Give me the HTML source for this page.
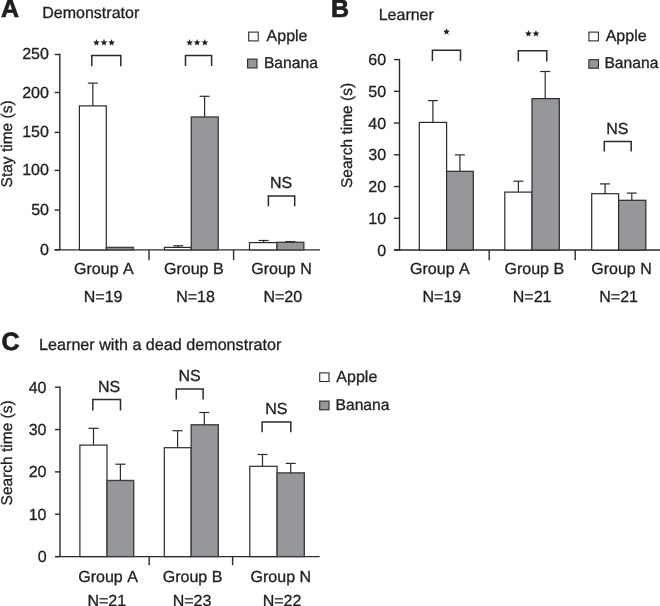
<!DOCTYPE html>
<html><head><meta charset="utf-8"><style>
html,body{margin:0;padding:0;background:#fff;}
body{width:660px;height:606px;overflow:hidden;}
svg{display:block;will-change:transform;}
text{font-family:"Liberation Sans",sans-serif;fill:#1e1e1e;stroke:#1e1e1e;stroke-width:0.3px;font-kerning:none;text-rendering:geometricPrecision;}
</style></head><body>
<svg width="660" height="606" viewBox="0 0 660 606">
<rect width="660" height="606" fill="#fff"/>
<text x="1.08" y="17.40" font-size="25" font-weight="bold" style="stroke-width:0.7px">A</text>
<text x="42.29" y="17.60" font-size="16">Demonstrator</text>
<line x1="59.80" y1="53.80" x2="59.80" y2="249.90" stroke="#2a2a2a" stroke-width="1.4"/>
<line x1="54.60" y1="249.90" x2="320.00" y2="249.90" stroke="#2a2a2a" stroke-width="1.4"/>
<line x1="54.60" y1="249.90" x2="59.80" y2="249.90" stroke="#2a2a2a" stroke-width="1.4"/>
<text x="40.03" y="255.00" font-size="16">0</text>
<line x1="54.60" y1="210.05" x2="59.80" y2="210.05" stroke="#2a2a2a" stroke-width="1.4"/>
<text x="31.13" y="215.00" font-size="16">50</text>
<line x1="54.60" y1="170.40" x2="59.80" y2="170.40" stroke="#2a2a2a" stroke-width="1.4"/>
<text x="22.23" y="175.00" font-size="16">100</text>
<line x1="54.60" y1="132.40" x2="59.80" y2="132.40" stroke="#2a2a2a" stroke-width="1.4"/>
<text x="22.23" y="137.00" font-size="16">150</text>
<line x1="54.60" y1="92.50" x2="59.80" y2="92.50" stroke="#2a2a2a" stroke-width="1.4"/>
<text x="22.23" y="98.00" font-size="16">200</text>
<line x1="54.60" y1="54.50" x2="59.80" y2="54.50" stroke="#2a2a2a" stroke-width="1.4"/>
<text x="22.23" y="59.00" font-size="16">250</text>
<line x1="149.00" y1="249.90" x2="149.00" y2="260.30" stroke="#2a2a2a" stroke-width="1.4"/>
<line x1="233.60" y1="249.90" x2="233.60" y2="260.30" stroke="#2a2a2a" stroke-width="1.4"/>
<text transform="translate(12.00,187.40) rotate(-90)" font-size="15.5">Stay time (s)</text>
<rect x="79.40" y="105.90" width="26.90" height="144.00" fill="#fff" stroke="#2a2a2a" stroke-width="1.2"/>
<line x1="92.85" y1="105.90" x2="92.85" y2="83.10" stroke="#2a2a2a" stroke-width="1.2"/>
<line x1="87.85" y1="83.10" x2="97.85" y2="83.10" stroke="#2a2a2a" stroke-width="1.2"/>
<rect x="106.40" y="247.40" width="27.00" height="2.50" fill="#96979b" stroke="#404040" stroke-width="1.4"/>
<rect x="164.40" y="247.40" width="26.70" height="2.50" fill="#fff" stroke="#2a2a2a" stroke-width="1.2"/>
<line x1="178.20" y1="247.40" x2="178.20" y2="245.80" stroke="#2a2a2a" stroke-width="1.2"/>
<line x1="173.20" y1="245.80" x2="183.20" y2="245.80" stroke="#2a2a2a" stroke-width="1.2"/>
<rect x="191.30" y="117.00" width="26.90" height="132.90" fill="#96979b" stroke="#404040" stroke-width="1.4"/>
<line x1="204.60" y1="117.00" x2="204.60" y2="96.30" stroke="#2a2a2a" stroke-width="1.2"/>
<line x1="199.60" y1="96.30" x2="209.60" y2="96.30" stroke="#2a2a2a" stroke-width="1.2"/>
<rect x="249.50" y="242.60" width="27.50" height="7.30" fill="#fff" stroke="#2a2a2a" stroke-width="1.2"/>
<line x1="263.60" y1="242.60" x2="263.60" y2="240.50" stroke="#2a2a2a" stroke-width="1.2"/>
<line x1="258.60" y1="240.50" x2="268.60" y2="240.50" stroke="#2a2a2a" stroke-width="1.2"/>
<rect x="277.00" y="242.30" width="26.80" height="7.60" fill="#96979b" stroke="#404040" stroke-width="1.4"/>
<line x1="290.20" y1="242.30" x2="290.20" y2="241.60" stroke="#2a2a2a" stroke-width="1.2"/>
<line x1="285.20" y1="241.60" x2="295.20" y2="241.60" stroke="#2a2a2a" stroke-width="1.2"/>
<polyline points="91.80,66.30 91.80,55.60 120.80,55.60 120.80,66.30" fill="none" stroke="#2a2a2a" stroke-width="1.5"/>
<polyline points="185.50,66.00 185.50,55.60 211.60,55.60 211.60,66.00" fill="none" stroke="#2a2a2a" stroke-width="1.5"/>
<polyline points="268.40,206.30 268.40,195.90 294.70,195.90 294.70,206.30" fill="none" stroke="#2a2a2a" stroke-width="1.5"/>
<polygon points="96.40,39.10 97.32,41.40 99.80,41.57 97.90,43.16 98.50,45.57 96.40,44.25 94.30,45.57 94.90,43.16 93.00,41.57 95.48,41.40" fill="#1e1e1e"/>
<polygon points="104.00,39.10 104.92,41.40 107.40,41.57 105.50,43.16 106.10,45.57 104.00,44.25 101.90,45.57 102.50,43.16 100.60,41.57 103.08,41.40" fill="#1e1e1e"/>
<polygon points="111.60,39.10 112.52,41.40 115.00,41.57 113.10,43.16 113.70,45.57 111.60,44.25 109.50,45.57 110.10,43.16 108.20,41.57 110.68,41.40" fill="#1e1e1e"/>
<polygon points="189.60,39.10 190.52,41.40 193.00,41.57 191.10,43.16 191.70,45.57 189.60,44.25 187.50,45.57 188.10,43.16 186.20,41.57 188.68,41.40" fill="#1e1e1e"/>
<polygon points="197.10,39.10 198.02,41.40 200.50,41.57 198.60,43.16 199.20,45.57 197.10,44.25 195.00,45.57 195.60,43.16 193.70,41.57 196.18,41.40" fill="#1e1e1e"/>
<polygon points="204.90,39.10 205.82,41.40 208.30,41.57 206.40,43.16 207.00,45.57 204.90,44.25 202.80,45.57 203.40,43.16 201.50,41.57 203.98,41.40" fill="#1e1e1e"/>
<text x="269.99" y="188.20" font-size="16">NS</text>
<rect x="248.70" y="32.10" width="9.50" height="8.80" fill="#fff" stroke="#2a2a2a" stroke-width="1.1"/>
<text x="266.57" y="41.10" font-size="16">Apple</text>
<rect x="247.60" y="59.10" width="9.40" height="8.80" fill="#96979b" stroke="#2a2a2a" stroke-width="1.1"/>
<text x="263.92" y="68.40" font-size="15.65">Banana</text>
<text x="74.10" y="273.70" font-size="16">Group A</text>
<text x="164.00" y="273.70" font-size="16">Group B</text>
<text x="251.30" y="273.70" font-size="16">Group N</text>
<text x="83.79" y="302.10" font-size="16">N=19</text>
<text x="176.19" y="302.10" font-size="16">N=18</text>
<text x="263.39" y="302.10" font-size="16">N=20</text>
<text x="331.03" y="17.30" font-size="25" font-weight="bold" style="stroke-width:0.7px">B</text>
<text x="378.69" y="19.90" font-size="16">Learner</text>
<line x1="399.50" y1="58.90" x2="399.50" y2="250.00" stroke="#2a2a2a" stroke-width="1.4"/>
<line x1="394.00" y1="250.00" x2="660.00" y2="250.00" stroke="#2a2a2a" stroke-width="1.4"/>
<line x1="394.00" y1="250.00" x2="399.50" y2="250.00" stroke="#2a2a2a" stroke-width="1.4"/>
<text x="377.23" y="255.50" font-size="16">0</text>
<line x1="394.00" y1="218.27" x2="399.50" y2="218.27" stroke="#2a2a2a" stroke-width="1.4"/>
<text x="368.33" y="223.77" font-size="16">10</text>
<line x1="394.00" y1="186.53" x2="399.50" y2="186.53" stroke="#2a2a2a" stroke-width="1.4"/>
<text x="368.33" y="192.03" font-size="16">20</text>
<line x1="394.00" y1="154.80" x2="399.50" y2="154.80" stroke="#2a2a2a" stroke-width="1.4"/>
<text x="368.33" y="160.30" font-size="16">30</text>
<line x1="394.00" y1="123.07" x2="399.50" y2="123.07" stroke="#2a2a2a" stroke-width="1.4"/>
<text x="368.33" y="128.57" font-size="16">40</text>
<line x1="394.00" y1="91.33" x2="399.50" y2="91.33" stroke="#2a2a2a" stroke-width="1.4"/>
<text x="368.33" y="96.83" font-size="16">50</text>
<line x1="394.00" y1="59.60" x2="399.50" y2="59.60" stroke="#2a2a2a" stroke-width="1.4"/>
<text x="368.33" y="65.10" font-size="16">60</text>
<line x1="489.20" y1="250.00" x2="489.20" y2="260.30" stroke="#2a2a2a" stroke-width="1.4"/>
<line x1="575.20" y1="250.00" x2="575.20" y2="260.30" stroke="#2a2a2a" stroke-width="1.4"/>
<text transform="translate(352.40,188.00) rotate(-90)" font-size="15.5">Search time (s)</text>
<rect x="419.30" y="122.40" width="27.30" height="127.60" fill="#fff" stroke="#2a2a2a" stroke-width="1.2"/>
<line x1="432.90" y1="122.40" x2="432.90" y2="100.60" stroke="#2a2a2a" stroke-width="1.2"/>
<line x1="427.90" y1="100.60" x2="437.90" y2="100.60" stroke="#2a2a2a" stroke-width="1.2"/>
<rect x="446.60" y="171.30" width="26.70" height="78.70" fill="#96979b" stroke="#2a2a2a" stroke-width="1.2"/>
<line x1="459.90" y1="171.30" x2="459.90" y2="154.90" stroke="#2a2a2a" stroke-width="1.2"/>
<line x1="454.90" y1="154.90" x2="464.90" y2="154.90" stroke="#2a2a2a" stroke-width="1.2"/>
<rect x="504.80" y="192.10" width="27.20" height="57.90" fill="#fff" stroke="#2a2a2a" stroke-width="1.2"/>
<line x1="518.40" y1="192.10" x2="518.40" y2="181.20" stroke="#2a2a2a" stroke-width="1.2"/>
<line x1="513.40" y1="181.20" x2="523.40" y2="181.20" stroke="#2a2a2a" stroke-width="1.2"/>
<rect x="532.00" y="98.60" width="27.30" height="151.40" fill="#96979b" stroke="#2a2a2a" stroke-width="1.2"/>
<line x1="545.20" y1="98.60" x2="545.20" y2="71.50" stroke="#2a2a2a" stroke-width="1.2"/>
<line x1="540.20" y1="71.50" x2="550.20" y2="71.50" stroke="#2a2a2a" stroke-width="1.2"/>
<rect x="591.70" y="193.70" width="26.90" height="56.30" fill="#fff" stroke="#2a2a2a" stroke-width="1.2"/>
<line x1="605.10" y1="193.70" x2="605.10" y2="183.90" stroke="#2a2a2a" stroke-width="1.2"/>
<line x1="600.10" y1="183.90" x2="610.10" y2="183.90" stroke="#2a2a2a" stroke-width="1.2"/>
<rect x="618.60" y="200.30" width="27.20" height="49.70" fill="#96979b" stroke="#2a2a2a" stroke-width="1.2"/>
<line x1="631.80" y1="200.30" x2="631.80" y2="193.10" stroke="#2a2a2a" stroke-width="1.2"/>
<line x1="626.80" y1="193.10" x2="636.80" y2="193.10" stroke="#2a2a2a" stroke-width="1.2"/>
<polyline points="432.40,61.00 432.40,50.20 460.50,50.20 460.50,61.00" fill="none" stroke="#2a2a2a" stroke-width="1.5"/>
<polyline points="518.30,61.60 518.30,50.80 546.80,50.80 546.80,61.60" fill="none" stroke="#2a2a2a" stroke-width="1.5"/>
<polyline points="604.30,151.50 604.30,141.40 631.20,141.40 631.20,151.50" fill="none" stroke="#2a2a2a" stroke-width="1.5"/>
<polygon points="446.50,28.20 447.42,30.50 449.90,30.67 448.00,32.26 448.60,34.67 446.50,33.35 444.40,34.67 445.00,32.26 443.10,30.67 445.58,30.50" fill="#1e1e1e"/>
<polygon points="528.40,30.10 529.32,32.40 531.80,32.57 529.90,34.16 530.50,36.57 528.40,35.25 526.30,36.57 526.90,34.16 525.00,32.57 527.48,32.40" fill="#1e1e1e"/>
<polygon points="536.00,30.10 536.92,32.40 539.40,32.57 537.50,34.16 538.10,36.57 536.00,35.25 533.90,36.57 534.50,34.16 532.60,32.57 535.08,32.40" fill="#1e1e1e"/>
<text x="606.19" y="134.30" font-size="16">NS</text>
<rect x="588.90" y="32.10" width="9.50" height="8.80" fill="#fff" stroke="#2a2a2a" stroke-width="1.1"/>
<text x="605.67" y="41.10" font-size="16">Apple</text>
<rect x="588.90" y="59.70" width="9.50" height="8.50" fill="#96979b" stroke="#2a2a2a" stroke-width="1.1"/>
<text x="604.42" y="68.40" font-size="15.65">Banana</text>
<text x="410.10" y="274.20" font-size="16">Group A</text>
<text x="504.50" y="274.20" font-size="16">Group B</text>
<text x="591.30" y="274.20" font-size="16">Group N</text>
<text x="422.49" y="301.90" font-size="16">N=19</text>
<text x="512.79" y="301.90" font-size="16">N=21</text>
<text x="599.29" y="301.90" font-size="16">N=21</text>
<text x="1.47" y="350.20" font-size="25" font-weight="bold" style="stroke-width:0.7px">C</text>
<text x="39.08" y="349.70" font-size="16.15">Learner with a dead demonstrator</text>
<line x1="60.00" y1="386.50" x2="60.00" y2="556.60" stroke="#2a2a2a" stroke-width="1.4"/>
<line x1="55.00" y1="556.60" x2="319.60" y2="556.60" stroke="#2a2a2a" stroke-width="1.4"/>
<line x1="55.00" y1="556.60" x2="60.00" y2="556.60" stroke="#2a2a2a" stroke-width="1.4"/>
<text x="37.63" y="562.10" font-size="16">0</text>
<line x1="55.00" y1="514.25" x2="60.00" y2="514.25" stroke="#2a2a2a" stroke-width="1.4"/>
<text x="28.73" y="519.75" font-size="16">10</text>
<line x1="55.00" y1="471.90" x2="60.00" y2="471.90" stroke="#2a2a2a" stroke-width="1.4"/>
<text x="28.73" y="477.40" font-size="16">20</text>
<line x1="55.00" y1="429.55" x2="60.00" y2="429.55" stroke="#2a2a2a" stroke-width="1.4"/>
<text x="28.73" y="435.05" font-size="16">30</text>
<line x1="55.00" y1="387.20" x2="60.00" y2="387.20" stroke="#2a2a2a" stroke-width="1.4"/>
<text x="28.73" y="392.70" font-size="16">40</text>
<line x1="149.20" y1="556.60" x2="149.20" y2="565.30" stroke="#2a2a2a" stroke-width="1.4"/>
<line x1="232.60" y1="556.60" x2="232.60" y2="565.30" stroke="#2a2a2a" stroke-width="1.4"/>
<text transform="translate(12.00,505.40) rotate(-90)" font-size="15.5">Search time (s)</text>
<rect x="79.90" y="445.10" width="27.10" height="111.50" fill="#fff" stroke="#2a2a2a" stroke-width="1.2"/>
<line x1="93.50" y1="445.10" x2="93.50" y2="428.30" stroke="#2a2a2a" stroke-width="1.2"/>
<line x1="88.50" y1="428.30" x2="98.50" y2="428.30" stroke="#2a2a2a" stroke-width="1.2"/>
<rect x="107.00" y="480.50" width="26.70" height="76.10" fill="#96979b" stroke="#404040" stroke-width="1.4"/>
<line x1="120.40" y1="480.50" x2="120.40" y2="464.20" stroke="#2a2a2a" stroke-width="1.2"/>
<line x1="115.40" y1="464.20" x2="125.40" y2="464.20" stroke="#2a2a2a" stroke-width="1.2"/>
<rect x="164.30" y="447.70" width="26.90" height="108.90" fill="#fff" stroke="#2a2a2a" stroke-width="1.2"/>
<line x1="177.60" y1="447.70" x2="177.60" y2="430.70" stroke="#2a2a2a" stroke-width="1.2"/>
<line x1="172.60" y1="430.70" x2="182.60" y2="430.70" stroke="#2a2a2a" stroke-width="1.2"/>
<rect x="191.20" y="424.80" width="27.10" height="131.80" fill="#96979b" stroke="#404040" stroke-width="1.4"/>
<line x1="204.30" y1="424.80" x2="204.30" y2="412.50" stroke="#2a2a2a" stroke-width="1.2"/>
<line x1="199.30" y1="412.50" x2="209.30" y2="412.50" stroke="#2a2a2a" stroke-width="1.2"/>
<rect x="249.80" y="466.30" width="27.30" height="90.30" fill="#fff" stroke="#2a2a2a" stroke-width="1.2"/>
<line x1="262.50" y1="466.30" x2="262.50" y2="454.50" stroke="#2a2a2a" stroke-width="1.2"/>
<line x1="257.50" y1="454.50" x2="267.50" y2="454.50" stroke="#2a2a2a" stroke-width="1.2"/>
<rect x="277.10" y="472.90" width="27.20" height="83.70" fill="#96979b" stroke="#404040" stroke-width="1.4"/>
<line x1="290.70" y1="472.90" x2="290.70" y2="463.40" stroke="#2a2a2a" stroke-width="1.2"/>
<line x1="285.70" y1="463.40" x2="295.70" y2="463.40" stroke="#2a2a2a" stroke-width="1.2"/>
<polyline points="92.80,410.50 92.80,399.60 120.50,399.60 120.50,410.50" fill="none" stroke="#2a2a2a" stroke-width="1.5"/>
<polyline points="176.30,399.60 176.30,389.10 203.10,389.10 203.10,399.60" fill="none" stroke="#2a2a2a" stroke-width="1.5"/>
<polyline points="262.10,432.30 262.10,422.00 290.80,422.00 290.80,432.30" fill="none" stroke="#2a2a2a" stroke-width="1.5"/>
<text x="97.99" y="392.30" font-size="16">NS</text>
<text x="178.39" y="381.20" font-size="16">NS</text>
<text x="265.29" y="414.00" font-size="16">NS</text>
<rect x="319.70" y="372.90" width="9.30" height="8.60" fill="#fff" stroke="#2a2a2a" stroke-width="1.1"/>
<text x="336.37" y="381.50" font-size="16">Apple</text>
<rect x="319.70" y="401.10" width="9.30" height="8.70" fill="#96979b" stroke="#2a2a2a" stroke-width="1.1"/>
<text x="335.52" y="410.00" font-size="15.65">Banana</text>
<text x="78.30" y="582.30" font-size="16">Group A</text>
<text x="162.80" y="582.30" font-size="16">Group B</text>
<text x="250.60" y="582.30" font-size="16">Group N</text>
<text x="87.39" y="605.60" font-size="16">N=21</text>
<text x="172.69" y="605.60" font-size="16">N=23</text>
<text x="262.69" y="605.60" font-size="16">N=22</text>
</svg>
</body></html>
